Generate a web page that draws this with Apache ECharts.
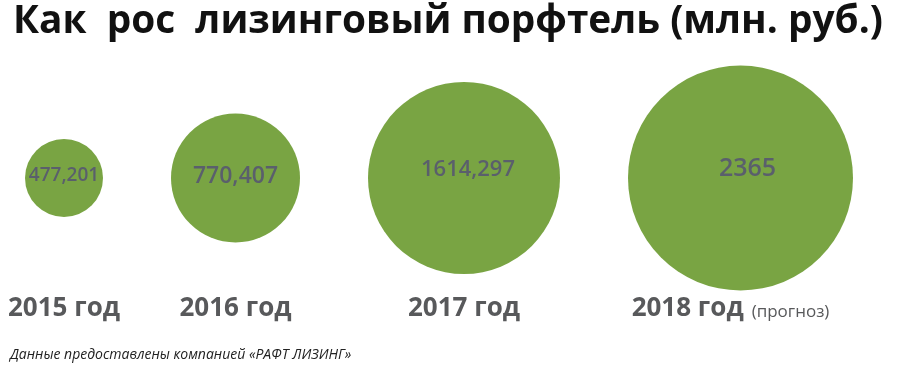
<!DOCTYPE html>
<html><head><meta charset="utf-8">
<script src="https://cdn.jsdelivr.net/npm/echarts@6/dist/echarts.min.js"></script>
<style>html,body{margin:0;padding:0;background:#fff}#c{width:900px;height:366px}</style>
</head><body><div id="c"></div>
<script>
// ---- data ----
const years = ['2015', '2016', '2017', '2018'];
const portfolio = [477.201, 770.407, 1614.297, 2365];
const valueLabels = ['477,201', '770,407', '1614,297', '2365'];
const yearLabels = ['2015 год', '2016 год', '2017 год', '2018 год'];
const yearNotes = ['', '', '', '(прогноз)'];
const titleText = 'Как  рос  лизинговый порфтель (млн. руб.)';
const sourceText = 'Данные предоставлены компанией «РАФТ ЛИЗИНГ»';

// ---- styling / layout ----
const bubbleDiameters = [78, 129, 192, 225];
const valueFontSizes = [19, 23, 22, 25];
const valueLabelOffsets = [[0, -2], [0, -2], [4, -8], [7, -9]];
const leftPad = 25, gap = 68;
const centers = [];
let cursor = leftPad;
bubbleDiameters.forEach(d => { centers.push(cursor + d / 2); cursor += d + gap; });

const FONT = '"Open Sans", sans-serif';
const chart = echarts.init(document.getElementById('c'), null, {renderer: 'canvas'});
chart.setOption({
  animation: false,
  backgroundColor: '#ffffff',
  title: [
    {text: titleText, left: 8, top: -3,
     textStyle: {fontFamily: FONT, fontWeight: 'bold', fontSize: 38.8, color: '#111111'}},
    {text: sourceText, left: 5, top: 343,
     textStyle: {fontFamily: FONT, fontStyle: 'italic', fontWeight: 'normal', fontSize: 14, color: '#222222'}}
  ],
  grid: {left: 0, right: 0, top: 66, bottom: 76},
  xAxis: {
    type: 'value', min: 0, max: 900,
    axisLine: {show: false}, axisTick: {show: false}, splitLine: {show: false},
    axisLabel: {
      customValues: centers, margin: 6, hideOverlap: false,
      formatter: v => {
        const i = centers.findIndex(c => Math.abs(c - v) < 0.01);
        if (i < 0) return '';
        return '{y|' + yearLabels[i] + '}' + (yearNotes[i] ? '{n|' + yearNotes[i] + '}' : '');
      },
      rich: {
        y: {fontFamily: FONT, fontWeight: 'bold', fontSize: 26, color: '#58595b'},
        n: {fontFamily: FONT, fontWeight: 'normal', fontSize: 17, color: '#58595b', padding: [6, 20, 0, 8]}
      }
    }
  },
  yAxis: {type: 'value', min: -1, max: 1, show: false},
  series: [{
    type: 'scatter',
    symbol: 'circle',
    data: portfolio.map((v, i) => ({
      name: years[i],
      value: [centers[i], 0, v],
      symbolSize: bubbleDiameters[i],
      label: {fontSize: valueFontSizes[i], offset: valueLabelOffsets[i]}
    })),
    itemStyle: {color: '#79a443', opacity: 1},
    label: {
      show: true, position: 'inside',
      formatter: p => valueLabels[p.dataIndex],
      fontFamily: FONT, fontWeight: 600, color: '#5a5f6c'
    },
    emphasis: {disabled: true}
  }]
});
</script></body></html>
